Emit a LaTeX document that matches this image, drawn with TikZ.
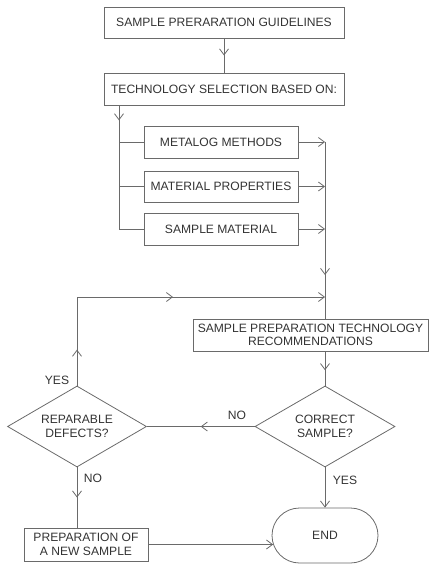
\documentclass[tikz,border=0pt]{standalone}
\usepackage{fontspec}
\setmainfont{Liberation Sans}
\usetikzlibrary{arrows.meta,shapes.geometric,shapes.misc,decorations.markings}
\definecolor{ln}{HTML}{6A6A6A}
\definecolor{tx}{HTML}{333333}
\tikzset{
  box/.style={draw=ln,line width=0.8pt,rectangle,inner sep=0pt,align=center,text=tx,font=\fontsize{12.1}{13.6}\selectfont},
  dia/.style={draw=ln,line width=0.8pt,diamond,inner sep=0pt,align=center,text=tx,font=\fontsize{12.1}{13.6}\selectfont},
  lbl/.style={text=tx,font=\fontsize{12.1}{13.6}\selectfont,inner sep=0pt},
  wire/.style={draw=ln,line width=0.8pt},
  tip/.style={-{Straight Barb[length=6pt,width=9pt,line width=0.8pt]}},
  midtip/.style={postaction={decorate},decoration={markings,mark=at position #1 with {\arrow{Straight Barb[length=6pt,width=9pt,line width=0.8pt]}}}}
}
\begin{document}
\begin{tikzpicture}[x=1pt,y=-1pt]
\useasboundingbox (0,0) rectangle (430,564);
\node[box,minimum width=240pt,minimum height=31pt] (g) at (224,22.5) {SAMPLE PRERARATION GUIDELINES};
\node[box,minimum width=240pt,minimum height=32pt] (t) at (224,89) {TECHNOLOGY SELECTION BASED ON:};
\node[box,minimum width=154pt,minimum height=32pt] (m1) at (221,142) {METALOG METHODS};
\node[box,minimum width=154pt,minimum height=31pt] (m2) at (221,186.5) {MATERIAL PROPERTIES};
\node[box,minimum width=154pt,minimum height=32pt] (m3) at (221,229) {SAMPLE MATERIAL};
\node[box,minimum width=235pt,minimum height=32pt] (rec) at (310.5,335) {SAMPLE PREPARATION TECHNOLOGY\\RECOMMENDATIONS};
\node[dia,minimum width=139pt,minimum height=81pt,aspect=1.7] (d1) at (77,426.5) {REPARABLE\\DEFECTS?};
\node[dia,minimum width=140pt,minimum height=81pt,aspect=1.7] (d2) at (325,426.5) {CORRECT\\SAMPLE?};
\node[box,minimum width=124pt,minimum height=33pt] (new) at (86,544.5) {PREPARATION OF\\A NEW SAMPLE};
\node[draw=ln,line width=0.8pt,rounded rectangle,minimum width=106pt,minimum height=55pt,inner sep=0pt,text=tx,font=\fontsize{12.1}{13.6}\selectfont] (end) at (325,535.5) {END};
\coordinate (bus) at (119,229);
\coordinate (j) at (325,297);
% connectors
\draw[wire,midtip=0.5] (g.south) -- (t.north);
\draw[wire,midtip=15pt] (t.south -| bus) -- (bus);
\draw[wire] (bus |- m1) -- (m1.west);
\draw[wire] (bus |- m2) -- (m2.west);
\draw[wire] (bus) -- (m3.west);
\draw[wire,tip] (m1.east) -- (m1.east -| j);
\draw[wire,tip] (m2.east) -- (m2.east -| j);
\draw[wire,tip] (m3.east) -- (m3.east -| j);
\draw[wire,midtip=133pt] (m1.east -| j) -- (j);
\draw[wire] (j) -- (j |- rec.north);
\draw[wire,midtip=0.55] (j |- rec.south) -- (d2.north);
\draw[wire,midtip=36pt] (d1.north) -- (d1.north |- j);
\draw[wire,midtip=96pt,tip] (d1.north |- j) -- (j);
\draw[wire,midtip=0.5] (d2.west) -- (d1.east);
\draw[wire,midtip=0.5] (d1.south) -- (d1.south |- new.north);
\draw[wire,tip] (d2.south) -- (end.north);
\draw[wire,tip] (new.east) -- ([xshift=1.5pt]new.east -| end.west);
% labels
\node[lbl] (yes1) at (57,380) {YES};
\node[lbl] (no1) at (237,415) {NO};
\node[lbl] (no2) at (93,478) {NO};
\node[lbl] (yes2) at (345,480) {YES};
\end{tikzpicture}
\end{document}
